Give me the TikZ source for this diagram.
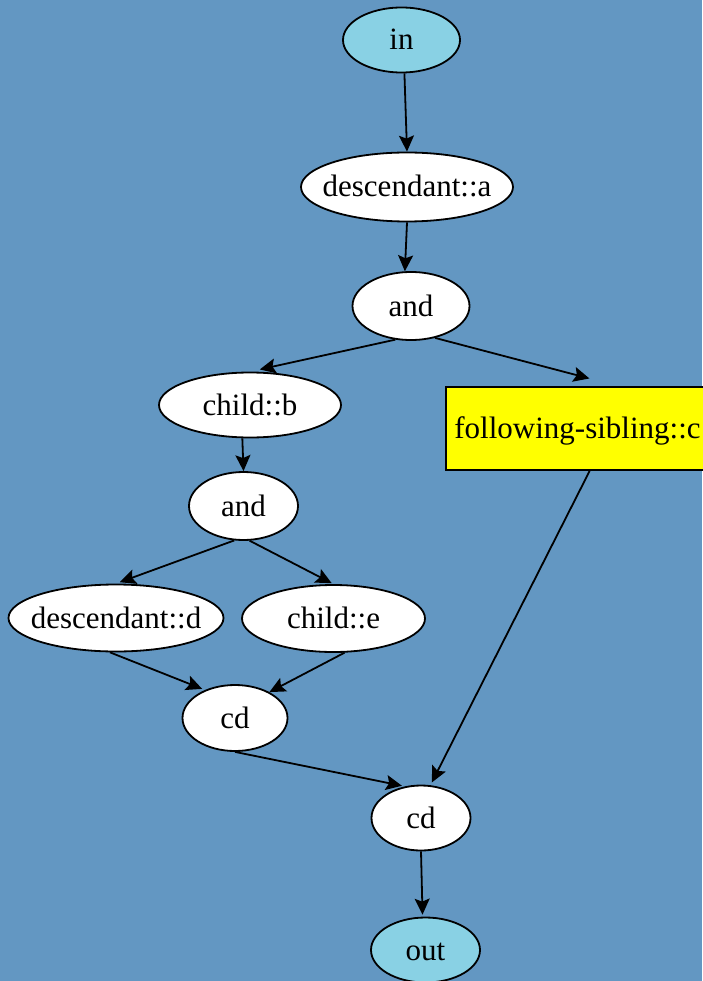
\documentclass[tikz,border=0pt]{standalone}
\usepackage{fontspec}
\setmainfont{Liberation Serif}
\usetikzlibrary{arrows.meta,shapes.geometric}
\definecolor{bgblue}{RGB}{99,151,194}
\definecolor{termblue}{RGB}{137,209,228}
\definecolor{axisyellow}{RGB}{255,255,0}
\newcommand{\nlabel}[1]{\raisebox{-10pt}[0pt][0pt]{\makebox[0pt]{#1}}}

\begin{document}
\begin{tikzpicture}[x=1pt,y=-1pt,font=\fontsize{31}{36}\selectfont,
    op/.style={ellipse,draw,line width=1.8pt,fill=white,inner sep=0pt},
    term/.style={op,fill=termblue},
    axis/.style={rectangle,draw,line width=1.8pt,fill=axisyellow,inner sep=0pt}]
    \fill[bgblue] (0,0) rectangle (702,981);
    \useasboundingbox (0,0) rectangle (702,981);
    \node[term,minimum width=117pt,minimum height=65pt] (inp) at (401.5,40) {\nlabel{in}};
    \node[op,minimum width=212pt,minimum height=69pt] (da) at (407,187) {\nlabel{descendant::a}};
    \node[op,minimum width=117pt,minimum height=68pt] (and1) at (411,306) {\nlabel{and}};
    \node[op,minimum width=182pt,minimum height=65pt] (cb) at (250,405) {\nlabel{child::b}};
    \node[axis,minimum width=263pt,minimum height=83pt] (fs) at (577.5,428.5) {\nlabel{following-sibling::c}};
    \node[op,minimum width=109pt,minimum height=68pt] (and2) at (243.5,506) {\nlabel{and}};
    \node[op,minimum width=215pt,minimum height=67pt] (dd) at (116,618) {\nlabel{descendant::d}};
    \node[op,minimum width=183pt,minimum height=67pt] (ce) at (333.5,618.5) {\nlabel{child::e}};
    \node[op,minimum width=105pt,minimum height=66pt] (cd1) at (235,718) {\nlabel{cd}};
    \node[op,minimum width=99pt,minimum height=65pt] (cd2) at (421,818) {\nlabel{cd}};
    \node[term,minimum width=109pt,minimum height=65pt] (outp) at (425.5,950) {\nlabel{out}};
    \path[->,line width=1.8pt,>={Stealth[length=16pt,width=15pt,inset=3pt]}]
      (inp.275) edge (da.north)
      (da.south) edge (and1.100)
      (and1.245) edge[shorten >=10pt] (cb.north)
      (and1.307) edge[shorten >=30pt] (fs.46)
      (cb.257) edge (and2.north)
      (and2.255) edge[shorten >=4pt] (dd.north)
      (and2.280) edge[shorten >=2pt] (ce.north)
      (dd.260) edge[shorten >=3pt] (cd1.137)
      (ce.288) edge (cd1.37)
      (cd1.south) edge[shorten >=3pt] (cd2.117)
      (fs.286) edge[shorten >=3pt] (cd2.74)
      (cd2.south) edge[shorten >=2pt] (outp.95);
  \end{tikzpicture}
\end{document}
